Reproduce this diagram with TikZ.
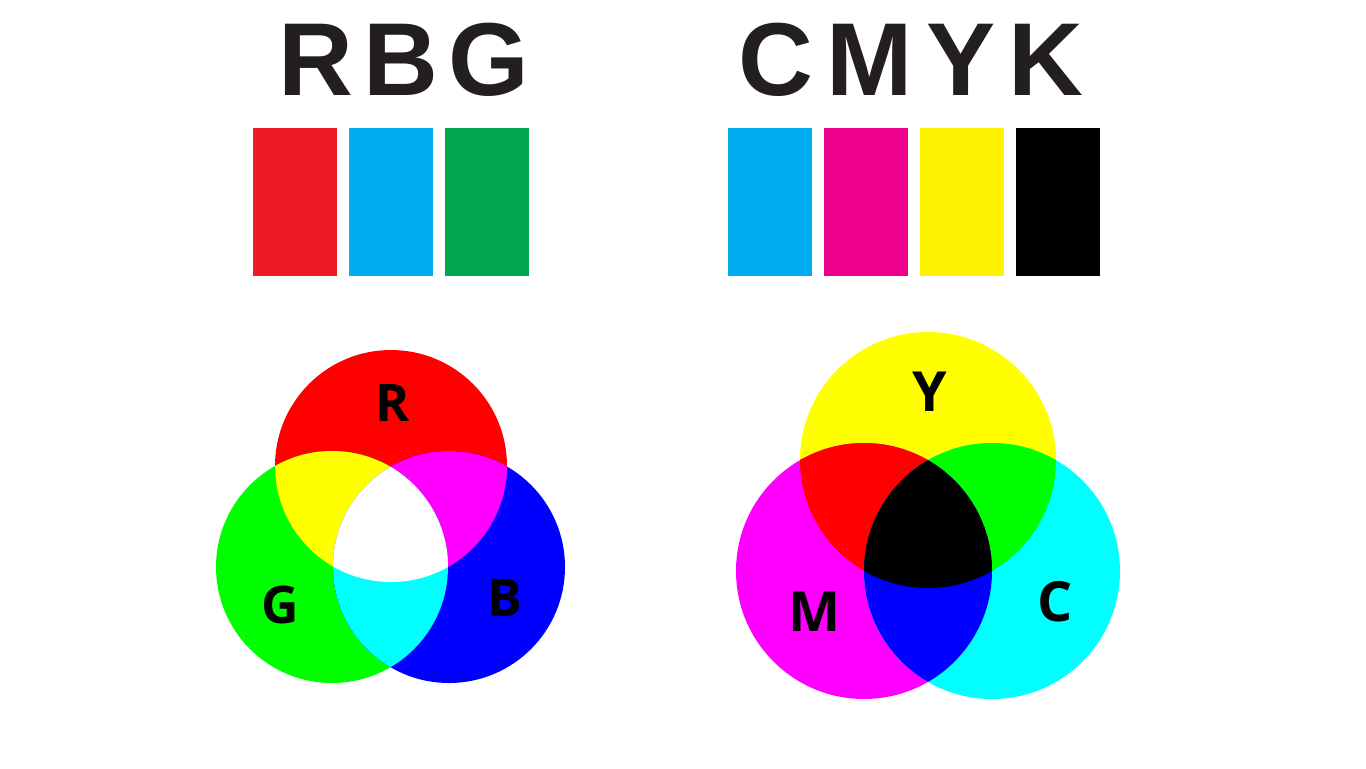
\documentclass[tikz,border=0pt]{standalone}
\usepackage{fontspec}
\setmainfont{Liberation Sans}
\newfontfamily\labelfont{Open Sans}
\usepackage{xcolor}
\definecolor{barred}{HTML}{ED1C24}
\definecolor{barblue}{HTML}{00AEEF}
\definecolor{bargreen}{HTML}{00A651}
\definecolor{barmagenta}{HTML}{EC008C}
\definecolor{baryellow}{HTML}{FFF200}
\definecolor{titlegray}{HTML}{231F20}
\definecolor{vred}{HTML}{FF0000}
\definecolor{vgreen}{HTML}{00FF00}
\definecolor{vblue}{HTML}{0000FF}
\definecolor{vyellow}{HTML}{FFFF00}
\definecolor{vmagenta}{HTML}{FF00FF}
\definecolor{vcyan}{HTML}{00FFFF}
\usetikzlibrary{positioning}
\tikzset{
  swatch/.style ={rectangle, inner sep=0pt, outer sep=0pt,
                  minimum width=1.68cm, minimum height=2.96cm},
  heading/.style={font=\fontsize{59}{60}\selectfont\bfseries, text=titlegray,
                  inner sep=0pt, anchor=base},
  vlbl/.style   ={font=\labelfont\fontsize{29.5}{30}\selectfont\bfseries,
                  text=black, inner sep=0pt},
  vlblb/.style  ={vlbl, font=\labelfont\fontsize{31.5}{32}\selectfont\bfseries},
}

\begin{document}
\begin{tikzpicture}[x=0.02cm, y=-0.02cm]
  \useasboundingbox (0,0) rectangle (1366,768);
  \fill[white] (0,0) rectangle (1366,768);

  % headings
  \node[heading] (trgb)  at (404,95) {\addfontfeatures{LetterSpace=10}RBG};
  \node[heading] (tcmyk) at (911,95) {\addfontfeatures{LetterSpace=13}CMYK};

  % swatches
  \node[swatch, fill=barred, anchor=north west] (s1) at (253,128) {};
  \node[swatch, fill=barblue,  right=0.24cm of s1] (s2) {};
  \node[swatch, fill=bargreen, right=0.24cm of s2] (s3) {};
  \node[swatch, fill=barblue, anchor=north west] (s4) at (728,128) {};
  \node[swatch, fill=barmagenta, right=0.24cm of s4] (s5) {};
  \node[swatch, fill=baryellow,  right=0.24cm of s5] (s6) {};
  \node[swatch, fill=black,      right=0.24cm of s6] (s7) {};

  % additive
  \coordinate (cr) at (391,466);
  \coordinate (cg) at (332,567);
  \coordinate (cb) at (449,567);
  \fill[vred]   (cr) circle (116);
  \fill[vgreen] (cg) circle (116);
  \fill[vblue]  (cb) circle (116);
  \begin{scope}\clip (cr) circle (116); \fill[vyellow]  (cg) circle (116); \end{scope}
  \begin{scope}\clip (cr) circle (116); \fill[vmagenta] (cb) circle (116); \end{scope}
  \begin{scope}\clip (cg) circle (116); \fill[vcyan]    (cb) circle (116); \end{scope}
  \begin{scope}\clip (cr) circle (116); \clip (cg) circle (116);
    \fill[white] (cb) circle (116); \end{scope}
  \node[vlbl] (lr) at (393,403) {R};
  \node[vlbl] (lg) at (280,605) {G};
  \node[vlbl] (lb) at (505,598) {B};

  % subtractive
  \coordinate (cy) at (928,460);
  \coordinate (cm) at (864,571);
  \coordinate (cc) at (992,571);
  \fill[vyellow]  (cy) circle (128);
  \fill[vmagenta] (cm) circle (128);
  \fill[vcyan]    (cc) circle (128);
  \begin{scope}\clip (cy) circle (128); \fill[vred]   (cm) circle (128); \end{scope}
  \begin{scope}\clip (cy) circle (128); \fill[vgreen] (cc) circle (128); \end{scope}
  \begin{scope}\clip (cm) circle (128); \fill[vblue]  (cc) circle (128); \end{scope}
  \begin{scope}\clip (cy) circle (128); \clip (cm) circle (128);
    \fill[black] (cc) circle (128); \end{scope}
  \node[vlblb] (ly) at (930,392) {Y};
  \node[vlblb] (lm) at (815,612) {M};
  \node[vlblb] (lc) at (1055,602) {C};
\end{tikzpicture}
\end{document}
